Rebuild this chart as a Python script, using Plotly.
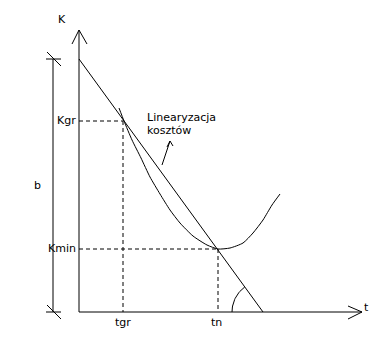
import numpy as np
import plotly.graph_objects as go

# ---- data (chart units: t horizontal, K vertical) ----
t_axis_end = 283
K_axis_end = 282
b_value = 253            # K at t=0 of the linearised cost line
t_line_end = 184         # where the linearised line meets the t axis
t_gr = 44
K_gr = 191
t_n = 139
K_min = 63
curve_t = [40, 45, 53, 62, 71, 81, 91, 101, 114, 128, 139, 151, 164, 174, 184, 193, 201]
curve_K = [204, 191, 172, 154, 135, 118, 102, 89, 76, 67, 63, 64, 69, 79, 92, 107, 118]
tick_labels = ["tgr", "tn"]
axis_labels = ["K", "t"]

BLACK = "#000000"
fig = go.Figure()


def seg(xs, ys, dash="solid", width=1):
    fig.add_trace(go.Scatter(x=xs, y=ys, mode="lines",
                             line=dict(color=BLACK, width=width, dash=dash),
                             hoverinfo="skip", showlegend=False))


# axes with open arrow heads
seg([0, 0], [0, K_axis_end])
seg([-7, 0, 8], [K_axis_end - 14, K_axis_end, K_axis_end - 14])
seg([0, t_axis_end], [0, 0])
seg([t_axis_end - 14, t_axis_end, t_axis_end - 14], [6, 0, -7])

# dimension line b
bx = -26
seg([bx, bx], [0, b_value])
seg([bx - 7, bx + 8], [b_value, b_value])
seg([bx - 6, bx + 8], [b_value + 7, b_value - 7])
seg([bx - 7, bx + 8], [0, 0])
seg([bx - 6, bx + 8], [7, -7])

# linearised cost line
seg([0, t_line_end], [b_value, 0])

# cost curve
fig.add_trace(go.Scatter(x=curve_t, y=curve_K, mode="lines",
                         line=dict(color=BLACK, width=1, shape="spline", smoothing=0.6),
                         hoverinfo="skip", showlegend=False))

# dashed guides
d = "4px,3px"
seg([0, t_gr], [K_gr, K_gr], dash=d)
seg([t_gr, t_gr], [K_gr, 0], dash=d)
seg([0, t_n], [K_min, K_min], dash=d)
seg([t_n, t_n], [K_min, 0], dash=d)

# angle arc
ang_end = np.degrees(np.arctan2(b_value, -t_line_end))
a = np.radians(np.linspace(ang_end, 180, 30))
r = 31
seg(t_line_end + r * np.cos(a), r * np.sin(a))

# small arrow pointing at the label
seg([83, 91], [147, 171])
seg([88, 91, 94], [165, 171, 166])

font = dict(family="DejaVu Sans", size=11, color=BLACK)
ann = [
    dict(x=-17, y=293, text=axis_labels[0], xanchor="center", yanchor="middle"),
    dict(x=287, y=5, text=axis_labels[1], xanchor="center", yanchor="middle"),
    dict(x=-42, y=127, text="b", xanchor="center", yanchor="middle"),
    dict(x=-1, y=K_gr + 1, text="Kgr", xanchor="right", yanchor="middle"),
    dict(x=-1, y=K_min + 1, text="Kmin", xanchor="right", yanchor="middle"),
    dict(x=t_gr, y=-10, text=tick_labels[0], xanchor="center", yanchor="middle"),
    dict(x=t_n - 2, y=-10, text=tick_labels[1], xanchor="center", yanchor="middle"),
    dict(x=66, y=195, text="Linearyzacja", xanchor="left", yanchor="middle"),
    dict(x=66, y=182, text="kosztów", xanchor="left", yanchor="middle"),
]
for an in ann:
    an.setdefault("font", font)
    an["showarrow"] = False
    fig.add_annotation(**an)

fig.update_layout(
    width=386, height=351,
    margin=dict(l=0, r=0, t=0, b=0),
    paper_bgcolor="white", plot_bgcolor="white",
    xaxis=dict(range=[-79, 307], visible=False, fixedrange=True),
    yaxis=dict(range=[-39, 312], visible=False, fixedrange=True),
    showlegend=False,
)
fig.write_html("out.html")
